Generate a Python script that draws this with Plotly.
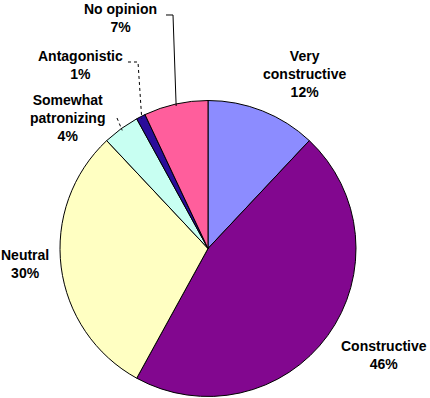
import math
import plotly.graph_objects as go

labels = ["Very<br>constructive", "Constructive", "Neutral",
          "Somewhat<br>patronizing", "Antagonistic", "No opinion"]
values = [12, 46, 30, 4, 1, 7]
colors = ["#8C8CFF", "#82078F", "#FFFFC2", "#C8FFF2", "#2A0C9A", "#FF5E9C"]

W, H = 430, 398
cx, cy, r = 208, 248.5, 148

def px(x):
    return x / W

def py(y):
    return 1 - y / H

pie = go.Pie(labels=labels, values=values, sort=False, direction="clockwise",
             rotation=0, textinfo="none", hoverinfo="label+percent",
             marker=dict(colors=colors, line=dict(color="black", width=1)),
             domain=dict(x=[px(cx - r), px(cx + r)], y=[py(cy + r), py(cy - r)]))

fig = go.Figure(data=[pie])

# label positions (pixel centre of text block)
label_pos = [(304, 74), (384, 355), (25, 264), (67, 118), (80, 65), (120, 18)]

annotations = []
for lab, v, (x, y) in zip(labels, values, label_pos):
    annotations.append(dict(x=px(x), y=py(y), xref="paper", yref="paper",
                            xanchor="center", yanchor="middle",
                            text="<b>" + lab + "<br>" + str(v) + "%</b>", showarrow=False,
                            font=dict(family="Arial, Liberation Sans", size=14, color="black")))

# leader lines to the small slices
total = sum(values)
cum = 0
mids = []
for v in values:
    mids.append((cum + v / 2) / total * 2 * math.pi)
    cum += v

def edge(i, rr=r):
    a = mids[i]
    return cx + rr * math.sin(a), cy - rr * math.cos(a)

shapes = []
elbows = {5: [(166, 15), (173, 15)], 4: [(128, 62), (138, 62)], 3: [(117, 118)]}
for i, pts in elbows.items():
    ex, ey = edge(i, r - 2)
    allpts = pts + [(ex, ey)]
    path = "M " + " L ".join("%f,%f" % (px(a), py(b)) for a, b in allpts)
    shapes.append(dict(type="path", path=path, xref="paper", yref="paper",
                       line=dict(color="black", width=1, dash="dot" if i != 5 else "solid")))

fig.update_layout(width=W, height=H, margin=dict(l=0, r=0, t=0, b=0),
                  showlegend=False, paper_bgcolor="white", plot_bgcolor="white",
                  annotations=annotations, shapes=shapes)

fig.write_html("out.html", config={"displayModeBar": False},
               post_script="document.body.style.margin='0';")
